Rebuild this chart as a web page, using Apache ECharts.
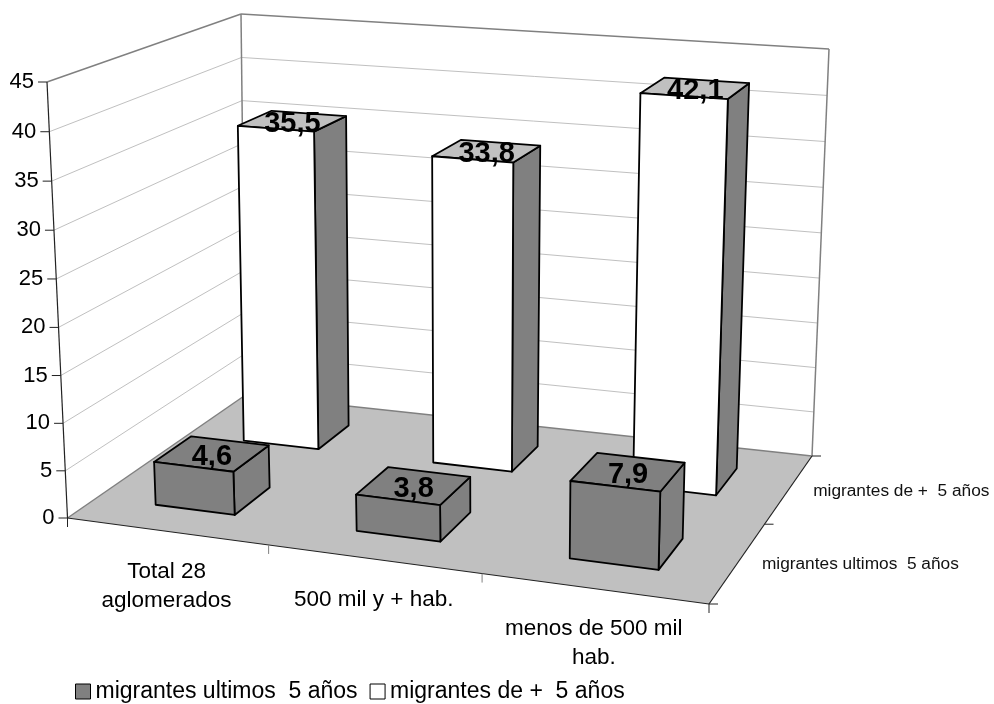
<!DOCTYPE html>
<html><head><meta charset="utf-8">
<style>html,body{margin:0;padding:0;background:#fff}#c{width:994px;height:704px}</style>
<script src="https://cdn.jsdelivr.net/npm/echarts@6/dist/echarts.min.js"></script>
</head><body><div id="c"></div>
<script>
const categories = ['Total 28\naglomerados', '500 mil y + hab.', 'menos de 500 mil\nhab.'];
const seriesNames = ['migrantes ultimos  5 años', 'migrantes de +  5 años'];
const ultimos = [4.6, 3.8, 7.9];
const masDe5 = [35.5, 33.8, 42.1];
const valueTicks = [0, 5, 10, 15, 20, 25, 30, 35, 40, 45];

const FONT = '"Liberation Sans", Arial, sans-serif';
const ZMAX = 45, K = 1.03, WARP = 0.022;
// camera calibration: corners of the plot box [front-left, front-right, back-right, back-left]
const floorQuad = [[67.5,518],[709,604],[812,456],[245.5,395]];
const topQuad = [[47,82],[723,134],[829,49],[241,14]];

function homography(q) {
  const [p0,p1,p2,p3] = q;
  const dx1=p1[0]-p2[0], dx2=p3[0]-p2[0], sx=p0[0]-p1[0]+p2[0]-p3[0];
  const dy1=p1[1]-p2[1], dy2=p3[1]-p2[1], sy=p0[1]-p1[1]+p2[1]-p3[1];
  const d=dx1*dy2-dx2*dy1;
  const g=(sx*dy2-dx2*sy)/d, h=(dx1*sy-sx*dy1)/d;
  const a=p1[0]-p0[0]+g*p1[0], b=p3[0]-p0[0]+h*p3[0], c=p0[0];
  const e=p1[1]-p0[1]+g*p1[1], f=p3[1]-p0[1]+h*p3[1], i=p0[1];
  return (s,t)=>{const w=g*s+h*t+1;return [(a*s+b*t+c)/w,(e*s+f*t+i)/w];};
}
const H0=homography(floorQuad), H1=homography(topQuad);
const nCat=categories.length, nDepth=seriesNames.length;
function P(u,v,z){
  let s=u/nCat; s=s+WARP*s*(1-s);
  const a=H0(s,v/nDepth), b=H1(s,v/nDepth);
  const t=z/(z+K*(ZMAX-z));
  return [a[0]+(b[0]-a[0])*t, a[1]+(b[1]-a[1])*t];
}
const poly=(pts,fill,stroke,lw,z2)=>({type:'polygon',z2:z2||0,shape:{points:pts},style:{fill:fill,stroke:stroke||null,lineWidth:lw||0,lineJoin:'round'}});
const line=(a,b,stroke,lw,z2)=>({type:'line',z2:z2||0,shape:{x1:a[0],y1:a[1],x2:b[0],y2:b[1]},style:{stroke:stroke,lineWidth:lw}});
const text=(x,y,s,size,align,vAlign,extra)=>({type:'text',z2:50,style:Object.assign({x:x,y:y,text:s,font:size+'px '+FONT,fill:'#000',align:align,verticalAlign:vAlign,lineHeight:29},extra||{})});

function renderFrame(){
  const ch=[], G='#808080', GRID='#c0c0c0', DK='#222';
  ch.push(poly([P(0,0,0),P(0,nDepth,0),P(0,nDepth,ZMAX),P(0,0,ZMAX)],'#fff'));
  ch.push(poly([P(0,nDepth,0),P(nCat,nDepth,0),P(nCat,nDepth,ZMAX),P(0,nDepth,ZMAX)],'#fff'));
  valueTicks.forEach(z=>{
    if(z>0&&z<ZMAX){
      ch.push(line(P(0,0,z),P(0,nDepth,z),GRID,1));
      ch.push(line(P(0,nDepth,z),P(nCat,nDepth,z),GRID,1));
    }
    const p=P(0,0,z);
    ch.push(line([p[0]-9,p[1]],p,DK,1));
    ch.push(text(p[0]-13,p[1],String(z),22,'right','middle'));
  });
  ch.push(poly([P(0,0,0),P(nCat,0,0),P(nCat,nDepth,0),P(0,nDepth,0)],'#c0c0c0'));
  // walls outline
  ch.push(line(P(0,nDepth,0),P(0,nDepth,ZMAX),G,1.5));
  ch.push(line(P(nCat,nDepth,0),P(nCat,nDepth,ZMAX),G,1.5));
  ch.push(line(P(0,0,ZMAX),P(0,nDepth,ZMAX),G,1.5));
  ch.push(line(P(0,nDepth,ZMAX),P(nCat,nDepth,ZMAX),G,1.5));
  ch.push(line(P(0,nDepth,0),P(nCat,nDepth,0),G,1.5));
  ch.push(line(P(0,0,0),P(0,nDepth,0),G,1.5));
  ch.push(line(P(0,0,0),P(0,0,ZMAX),DK,1.2));
  ch.push(line(P(0,0,0),P(nCat,0,0),DK,1.2));
  ch.push(line(P(nCat,0,0),P(nCat,nDepth,0),DK,1.2));
  for(let u=0;u<=nCat;u++){const p=P(u,0,0);ch.push(line(p,[p[0],p[1]+9],u%nCat===0?DK:G,1));}
  for(let v=0;v<=nDepth;v++){const p=P(nCat,v,0);ch.push(line(p,[p[0]+9,p[1]],DK,1));}
  categories.forEach((c,i)=>{const p=P(i+.5,0,0);ch.push(text(p[0],p[1]+26,c,22.5,'center','top'));});
  seriesNames.forEach((s,i)=>{const p=P(nCat,i+.5,0);ch.push(text(p[0]+24,p[1]+2,s,17.3,'left','middle',{fill:'#111'}));});
  return {type:'group',children:ch};
}
const GAP=0.3;
function barRenderer(depth,front,top,side){
  return function(params,api){
    const i=api.value(0), val=api.value(1);
    const u0=i+GAP,u1=i+1-GAP,v0=depth+GAP,v1=depth+1-GAP;
    const A=[P(u0,v0,0),P(u1,v0,0),P(u1,v1,0)];
    const T=[P(u0,v0,val),P(u1,v0,val),P(u1,v1,val),P(u0,v1,val)];
    const S='#000',W=1.8;
    const c=P(i+.5,depth+.5,val);
    return {type:'group',children:[
      poly([A[1],A[2],T[2],T[1]],side,S,W),
      poly([T[0],T[1],T[2],T[3]],top,S,W),
      poly([A[0],A[1],T[1],T[0]],front,S,W),
      text(c[0],c[1]+3,String(val).replace('.',','),29,'center','middle',{font:'bold 29px '+FONT})
    ]};
  };
}
const toRows=a=>a.map((v,i)=>[i,v]);
const chart=echarts.init(document.getElementById('c'),null,{renderer:'canvas'});
chart.setOption({
  animation:false,
  backgroundColor:'#fff',
  legend:{
    left:70,top:675,itemWidth:15,itemHeight:15,itemGap:12,selectedMode:false,
    textStyle:{fontFamily:FONT,fontSize:23,color:'#000'},
    data:[
      {name:seriesNames[0],icon:'rect',itemStyle:{color:'#808080',borderColor:'#000',borderWidth:1}},
      {name:seriesNames[1],icon:'rect',itemStyle:{color:'#fff',borderColor:'#000',borderWidth:1}}
    ]
  },
  series:[
    {type:'custom',name:'frame',coordinateSystem:'none',silent:true,z:1,data:[[0]],renderItem:renderFrame},
    {type:'custom',name:seriesNames[1],coordinateSystem:'none',silent:true,z:2,encode:{value:1},data:toRows(masDe5),
      itemStyle:{color:'#fff'},renderItem:barRenderer(1,'#fff','#c0c0c0','#808080')},
    {type:'custom',name:seriesNames[0],coordinateSystem:'none',silent:true,z:3,encode:{value:1},data:toRows(ultimos),
      itemStyle:{color:'#808080'},renderItem:barRenderer(0,'#808080','#808080','#808080')}
  ]
});
</script></body></html>
